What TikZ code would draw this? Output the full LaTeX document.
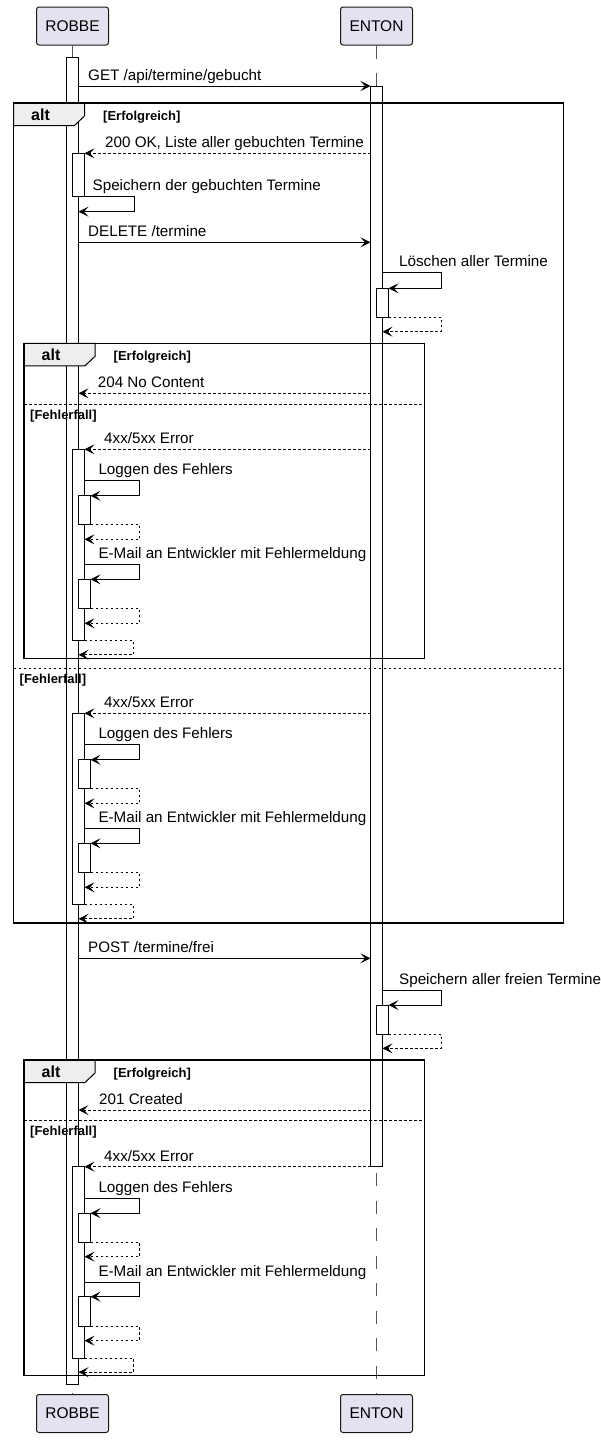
\documentclass[tikz,border=0pt]{standalone}
\usepackage{fontspec}
\setmainfont{Liberation Sans}
\usetikzlibrary{arrows.meta}
\definecolor{partfill}{HTML}{E2E2F0}
\definecolor{partdraw}{HTML}{181818}
\definecolor{tabfill}{HTML}{EEEEEE}
\definecolor{lifegray}{HTML}{555555}
\tikzset{
  part/.style={draw=partdraw, fill=partfill, line width=1pt, rounded corners=2.5pt,
    minimum width=72pt, minimum height=38pt, inner sep=0pt, font=\fontsize{15.5}{18}\selectfont},
  lifeline/.style={draw=lifegray, line width=1pt, dash pattern=on 13.3pt off 14.2pt},
  barbox/.style={draw=black, fill=white, line width=0.9pt},
  msgtip/.style={-{Stealth[length=10pt,width=10pt,inset=4.5pt]}},
  callmsg/.style={draw=black, line width=1pt, msgtip},
  retmsg/.style={draw=black, line width=1pt, dash pattern=on 2.5pt off 2.5pt, msgtip},
  msglabel/.style={anchor=base west, inner sep=0pt, font=\fontsize{15.2}{18}\selectfont},
  framebox/.style={draw=black, line width=1.5pt},
  tabbox/.style={draw=black, fill=tabfill, line width=1pt},
  altlabel/.style={anchor=base, inner sep=0pt, font=\fontsize{16}{18}\selectfont\bfseries},
  guardlabel/.style={anchor=base west, inner sep=0pt, font=\fontsize{13}{15}\selectfont\bfseries},
  sepline/.style={draw=black, line width=1pt, dash pattern=on 2.5pt off 2.5pt},
}
% message: name, x1, x2, y, style, label x, text
\newcommand\SqMsg[7]{%
  \coordinate (#1-s) at (#2,#4);
  \coordinate (#1-e) at (#3,#4);
  \draw[#5] (#1-s) -- (#1-e);
  \node[msglabel] (#1-t) at (#6,#4-5.5) {#7};
}
% self call: name, x start, y top, x right, y bottom, x tip, style, label x, text
\newcommand\SqSelf[9]{%
  \coordinate (#1-s) at (#2,#3);
  \coordinate (#1-k) at (#4,#5);
  \coordinate (#1-e) at (#6,#5);
  \draw[#7] (#1-s) -| (#1-k) -- (#1-e);
  \node[msglabel] (#1-t) at (#8,#3-6) {#9};
}
% return without label: name, x start, y top, x right, y bottom, x tip
\newcommand\SqRet[6]{%
  \coordinate (#1-s) at (#2,#3);
  \coordinate (#1-k) at (#4,#5);
  \coordinate (#1-e) at (#6,#5);
  \draw[retmsg] (#1-s) -| (#1-k) -- (#1-e);
}
\newcommand\SqBar[4]{\draw[barbox] (#1,#2) rectangle (#3,#4);}
% error block: prefix, A (y of 4xx arrow)
\newcommand\SqErr[2]{%
  \pgfmathsetmacro\blkA{#2}
  \SqBar{72.5}{\blkA}{84.5}{\blkA+191.5}
  \SqBar{78.5}{\blkA+46.5}{90.5}{\blkA+75.5}
  \SqBar{78.5}{\blkA+130}{90.5}{\blkA+159.5}
  \SqMsg{#1err}{370.5}{84.5}{\blkA}{retmsg}{104}{4xx/5xx Error}
  \SqSelf{#1log}{84.5}{\blkA+31.5}{139.5}{\blkA+46.5}{90.5}{callmsg}{98.3}{Loggen des Fehlers}
  \SqRet{#1logr}{90.5}{\blkA+75.5}{139.5}{\blkA+90}{84.5}
  \SqSelf{#1mail}{84.5}{\blkA+115.5}{139.5}{\blkA+130}{90.5}{callmsg}{98.3}{E-Mail an Entwickler mit Fehlermeldung}
  \SqRet{#1mailr}{90.5}{\blkA+159.5}{139.5}{\blkA+174}{84.5}
  \SqRet{#1fin}{84.5}{\blkA+191.5}{133.5}{\blkA+205.5}{78.5}
}
% alt frame: name, L, T, R, B, separator y
\newcommand\SqAlt[6]{%
  \draw[tabbox] (#2,#3) -- (#2+71,#3) -- (#2+71,#3+13) -- (#2+61,#3+22.5) -- (#2,#3+22.5) -- cycle;
  \draw[framebox] (#2,#3) rectangle (#4,#5);
  \node[altlabel] (#1-alt) at (#2+27,#3+17.5) {alt};
  \node[guardlabel] (#1-g1) at (#2+89.5,#3+17.5) {[Erfolgreich]};
  \draw[sepline] (#2,#6) -- (#4,#6);
  \node[guardlabel] (#1-g2) at (#2+6,#6+15) {[Fehlerfall]};
}
\begin{document}
\begin{tikzpicture}[x=1pt,y=-1pt]
\useasboundingbox (0,0) rectangle (600,1440);
% participants
\node[part] (Rtop) at (72.5,26) {ROBBE};
\node[part] (Etop) at (376.5,26) {ENTON};
\node[part] (Rbot) at (72.5,1413.5) {ROBBE};
\node[part] (Ebot) at (376.5,1413.5) {ENTON};
% lifelines
\draw[lifeline] (Rtop.south) -- (Rbot.north);
\draw[lifeline] (Etop.south) -- (Ebot.north);
% main activation bars
\SqBar{66.5}{57.7}{78.5}{1384}
\SqBar{370.5}{86}{382.5}{1166.7}
% GET and success branch
\SqMsg{get}{78.5}{370.5}{86}{callmsg}{88}{GET /api/termine/gebucht}
\SqBar{72.5}{153.3}{84.5}{196.7}
\SqMsg{ok}{370.5}{84.5}{153.3}{retmsg}{105}{200 OK, Liste aller gebuchten Termine}
\SqSelf{save}{84.5}{196.7}{134.5}{211.7}{78.5}{callmsg}{92.5}{Speichern der gebuchten Termine}
\SqMsg{del}{78.5}{370.5}{242.3}{callmsg}{88}{DELETE /termine}
\SqBar{376.5}{288.3}{388.5}{317.3}
\SqSelf{loe}{382.5}{272.7}{441}{288.3}{388.5}{callmsg}{399}{Löschen aller Termine}
\SqRet{loer}{388.5}{317.3}{441}{331.7}{382.5}
\SqMsg{nc}{370.5}{78.5}{393.3}{retmsg}{97.7}{204 No Content}
\SqErr{a}{449.3}
% outer error branch
\SqErr{b}{713.3}
% POST
\SqMsg{post}{78.5}{370.5}{958.3}{callmsg}{88}{POST /termine/frei}
\SqBar{376.5}{1005}{388.5}{1034}
\SqSelf{frei}{382.5}{990}{441}{1005}{388.5}{callmsg}{399}{Speichern aller freien Termine}
\SqRet{freir}{388.5}{1034}{441}{1048.3}{382.5}
\SqMsg{cr}{370.5}{78.5}{1110}{retmsg}{99}{201 Created}
\SqErr{c}{1166.7}
% frames
\SqAlt{outer}{13.5}{103}{563.5}{923}{668}
\SqAlt{inA}{24}{343.3}{424.5}{658.3}{404}
\SqAlt{inB}{24}{1060}{424.5}{1375.7}{1120.7}
\end{tikzpicture}
\end{document}
